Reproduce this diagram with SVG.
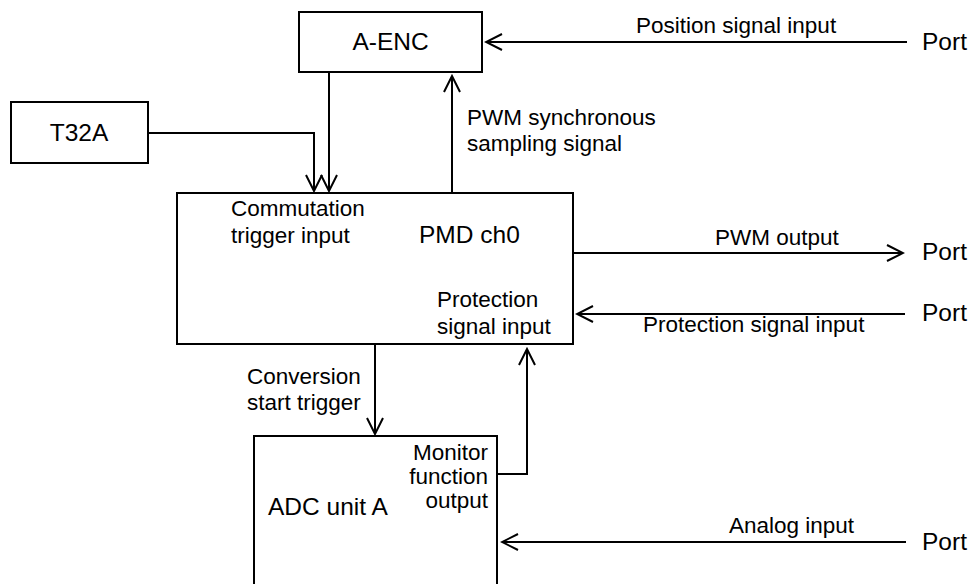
<svg xmlns="http://www.w3.org/2000/svg" width="973" height="584" viewBox="0 0 973 584">
<defs>
<style>
.box{fill:#fff;stroke:#000;stroke-width:2}
.ln{fill:none;stroke:#000;stroke-width:2}
.t{font-family:"Liberation Sans",Arial,sans-serif;font-size:22.5px;fill:#000}
.b{font-family:"Liberation Sans",Arial,sans-serif;font-size:24.5px;fill:#000}
</style>
<marker id="ah" viewBox="-18 -10 20 20" markerWidth="20" markerHeight="20" refX="0" refY="0" orient="auto" markerUnits="userSpaceOnUse">
<path d="M-16,-8 L0,0 L-16,8" fill="none" stroke="#000" stroke-width="2"/>
</marker>
</defs>
<rect width="973" height="584" fill="#fff"/>
<g id="connectors">
<polyline class="ln" points="148,133 314,133 314,191" marker-end="url(#ah)"/>
<line class="ln" x1="329" y1="72" x2="329" y2="191" marker-end="url(#ah)"/>
<line class="ln" x1="452" y1="193" x2="452" y2="76" marker-end="url(#ah)"/>
<line class="ln" x1="907" y1="42" x2="486" y2="42" marker-end="url(#ah)"/>
<line class="ln" x1="573" y1="253" x2="903" y2="253" marker-end="url(#ah)"/>
<line class="ln" x1="905" y1="314" x2="577" y2="314" marker-end="url(#ah)"/>
<line class="ln" x1="375" y1="345" x2="375" y2="434" marker-end="url(#ah)"/>
<polyline class="ln" points="497,474 527,474 527,349" marker-end="url(#ah)"/>
<line class="ln" x1="906" y1="542" x2="502" y2="542" marker-end="url(#ah)"/>
<text class="t" x="636" y="33">Position signal input</text>
<text class="t" x="467" y="125">PWM synchronous</text>
<text class="t" x="467" y="151">sampling signal</text>
<text class="t" x="715" y="245">PWM output</text>
<text class="t" x="643" y="332">Protection signal input</text>
<text class="t" x="247" y="384">Conversion</text>
<text class="t" x="247" y="410">start trigger</text>
<text class="t" x="729" y="533">Analog input</text>
</g>
<g id="aenc">
<rect class="box" x="299" y="12" width="183" height="60"/>
<text class="b" x="390.5" y="50" text-anchor="middle">A-ENC</text>
</g>
<g id="t32a">
<rect class="box" x="11" y="102" width="137" height="61"/>
<text class="b" x="79" y="141" text-anchor="middle">T32A</text>
</g>
<g id="pmd">
<rect class="box" x="177" y="193" width="396" height="151"/>
<text class="t" x="231" y="216">Commutation</text>
<text class="t" x="231" y="243">trigger input</text>
<text class="b" x="419" y="243">PMD ch0</text>
<text class="t" x="437" y="307">Protection</text>
<text class="t" x="437" y="334">signal input</text>
</g>
<g id="adc">
<rect class="box" x="254" y="436" width="243" height="170"/>
<text class="t" x="488" y="460" text-anchor="end">Monitor</text>
<text class="t" x="488" y="484" text-anchor="end">function</text>
<text class="t" x="488" y="508" text-anchor="end">output</text>
<text class="b" x="268" y="515">ADC unit A</text>
</g>
<g id="ports">
<text class="b" x="922" y="50">Port</text>
<text class="b" x="922" y="260">Port</text>
<text class="b" x="922" y="321">Port</text>
<text class="b" x="922" y="550">Port</text>
</g>
</svg>
